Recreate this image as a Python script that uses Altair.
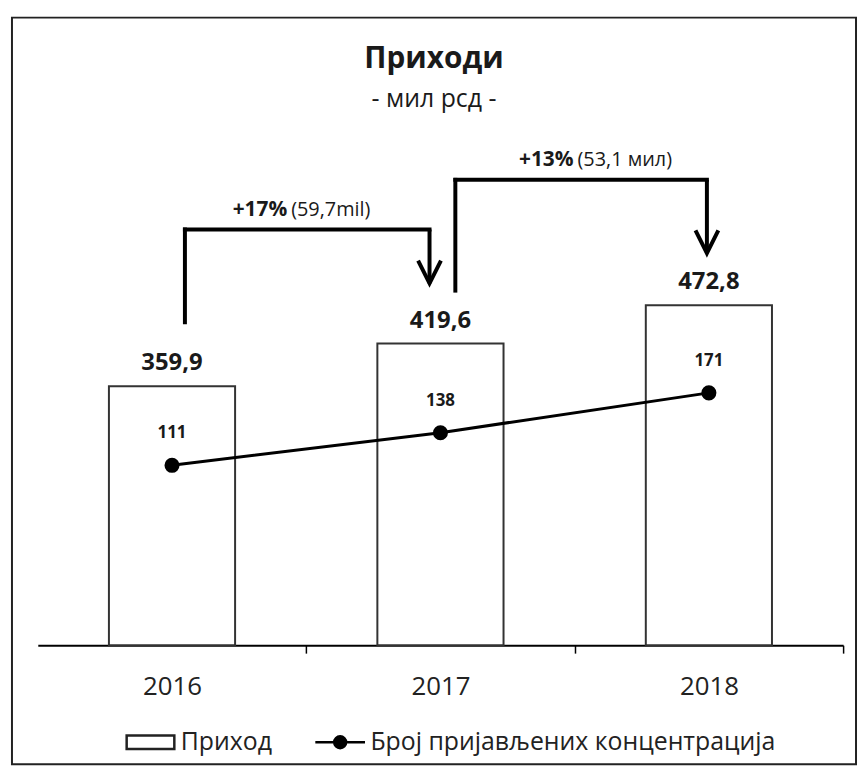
import altair as alt
import pandas as pd

# ---- data ----
YEARS = ["2016", "2017", "2018"]
REVENUE = [359.9, 419.6, 472.8]          # мил рсд (bars)
FILINGS = [111, 138, 171]                # број пријављених концентрација (line)
SERIES = ["Приход", "Број пријављених концентрација"]

# growth annotations (levels in мил рсд on the bar scale)
ARROW_FROM = ["2016", "2017"]
ARROW_TO = ["2017", "2018"]
ARROW_PCT = ["+17%", "+13%"]
ARROW_AMT = ["(59,7mil)", "(53,1 мил)"]
ARROW_START = [449, 493]
ARROW_TOP = [578, 647]
ARROW_TIP = [503, 545]

FONT = "Open Sans"
INK = "#1a1a1a"

df = pd.DataFrame({"year": YEARS, "revenue": REVENUE, "filings": FILINGS})
arrows = pd.DataFrame({
    "from": ARROW_FROM, "to": ARROW_TO, "pct": ARROW_PCT, "amt": ARROW_AMT,
    "start": ARROW_START, "top": ARROW_TOP, "tip": ARROW_TIP,
})
legend_df = pd.DataFrame({"series": SERIES})

x_scale = alt.Scale(domain=YEARS, range=[26, 837], paddingInner=0.53, paddingOuter=0.265)
y_bar = alt.Scale(domain=[0, 700], range=[632, 125], nice=False, zero=False)
y_line = alt.Scale(domain=[-38, 379], range=[632, 125], nice=False, zero=False)

# ticks sit on the category boundaries (half a step right of each centre)
x_axis = alt.Axis(
    offset=-120, domainColor="black", domainWidth=2,
    tickSize=8, tickColor="black", tickWidth=1.5, tickOffset=135, labelOffset=-135,
    labelFontSize=26, labelColor="#222", labelPadding=21, labelAngle=0,
    grid=False, title=None, labelFont=FONT,
)


def X(field):
    return alt.X(f"{field}:N", scale=x_scale, axis=x_axis, sort=YEARS, title=None)


base = alt.Chart(df)

bars = base.mark_bar(fill="white", stroke="#333", strokeWidth=2).encode(
    x=X("year"),
    y=alt.Y("revenue:Q", scale=y_bar, axis=None),
    y2=alt.Y2(datum=0),
)

bar_labels = base.transform_calculate(
    lbl="replace(format(datum.revenue, '.1f'), '.', ',')"
).mark_text(
    fontSize=24, fontWeight="bold", baseline="alphabetic", dy=-16, color=INK, font=FONT
).encode(
    x=X("year"),
    y=alt.Y("revenue:Q", scale=y_bar, axis=None),
    text="lbl:N",
)

line = base.mark_line(color="black", strokeWidth=3).encode(
    x=X("year"),
    y=alt.Y("filings:Q", scale=y_line, axis=None),
)
points = base.mark_point(filled=True, size=230, color="black", opacity=1).encode(
    x=X("year"),
    y=alt.Y("filings:Q", scale=y_line, axis=None),
)
line_labels = base.mark_text(
    fontSize=17, fontWeight="bold", baseline="alphabetic", dy=-27, color=INK, font=FONT
).encode(
    x=X("year"),
    y=alt.Y("filings:Q", scale=y_line, axis=None),
    text="filings:Q",
)

# ---- growth arrows ----
CHEVRON = "M-0.5,-1L0,0L0.5,-1"
arrow_layers = []
ARROW_STYLE = [
    dict(left=13, right=-11, split=118),
    dict(left=15, right=-2, split=136),
]
for i, st in enumerate(ARROW_STYLE):
    a = alt.Chart(arrows.iloc[[i]])
    yb = lambda f: alt.Y(f"{f}:Q", scale=y_bar, axis=None)
    left = a.mark_rule(color="black", strokeWidth=4, xOffset=st["left"], strokeCap="square").encode(
        x=X("from"), y=yb("start"), y2="top:Q")
    top = a.mark_rule(color="black", strokeWidth=4, xOffset=st["left"], x2Offset=st["right"],
                      strokeCap="square").encode(
        x=X("from"), x2="to:N", y=yb("top"))
    right = a.mark_rule(color="black", strokeWidth=4, xOffset=st["right"]).encode(
        x=X("to"), y=yb("top"), y2="tip:Q")
    head = a.mark_point(shape=CHEVRON, size=2116, filled=False, stroke="black",
                        strokeWidth=4, opacity=1, xOffset=st["right"]).encode(
        x=X("to"), y=yb("tip"))
    pct = a.mark_text(fontSize=21, fontWeight="bold", align="right", baseline="alphabetic",
                      dx=st["split"] - 2, dy=-14, color=INK, font=FONT).encode(
        x=X("from"), y=yb("top"), text="pct:N")
    amt = a.mark_text(fontSize=20, align="left", baseline="alphabetic",
                      dx=st["split"] + 2, dy=-14, color=INK, font=FONT).encode(
        x=X("from"), y=yb("top"), text="amt:N")
    arrow_layers += [left, top, right, head, pct, amt]

# ---- legend ----
RECT_PATH = "M-0.96,-0.27L0.96,-0.27L0.96,0.27L-0.96,0.27Z"
LINE_DOT_PATH = ("M-1,0L1,0M0.24,0A0.24,0.24,0,1,1,-0.24,0"
                 "A0.24,0.24,0,1,1,0.24,0Z")
legend_common = dict(
    orient="none", legendX=113, legendY=703, direction="horizontal", title=None,
    symbolSize=2500, labelFontSize=25, labelFont=FONT, labelColor="#222",
    labelOffset=4, columnPadding=38, symbolStrokeWidth=2.5, labelLimit=0,
    symbolOpacity=1,
)
legend_layer = alt.Chart(legend_df).transform_filter("false").mark_point(
    filled=True, strokeWidth=2.5
).encode(
    fill=alt.Fill("series:N", scale=alt.Scale(domain=SERIES, range=["white", "black"]),
                  legend=alt.Legend(**legend_common)),
    stroke=alt.Stroke("series:N", scale=alt.Scale(domain=SERIES, range=["#222", "black"]),
                      legend=alt.Legend(**legend_common)),
    shape=alt.Shape("series:N", scale=alt.Scale(domain=SERIES, range=[RECT_PATH, LINE_DOT_PATH]),
                    legend=alt.Legend(**legend_common)),
)

chart = alt.layer(
    bars, bar_labels, line, points, line_labels, *arrow_layers, legend_layer
).resolve_scale(
    y="independent"
).properties(
    width=850, height=752,
    padding={"left": 4, "top": 7, "right": 2, "bottom": 2},
    autosize=alt.AutoSizeParams(type="none"),
    title=alt.Title(
        "Приходи", subtitle="- мил рсд -", fontSize=30, fontWeight="bold",
        subtitleFontSize=25, font=FONT, subtitleFont=FONT, color=INK,
        subtitleColor=INK, anchor="middle", frame="group", offset=-95,
        subtitlePadding=13,
    ),
).configure(
    font=FONT
).configure_view(
    stroke="#222", strokeWidth=2
)

chart.save("out.html", embed_options={"renderer": "svg", "actions": False})
